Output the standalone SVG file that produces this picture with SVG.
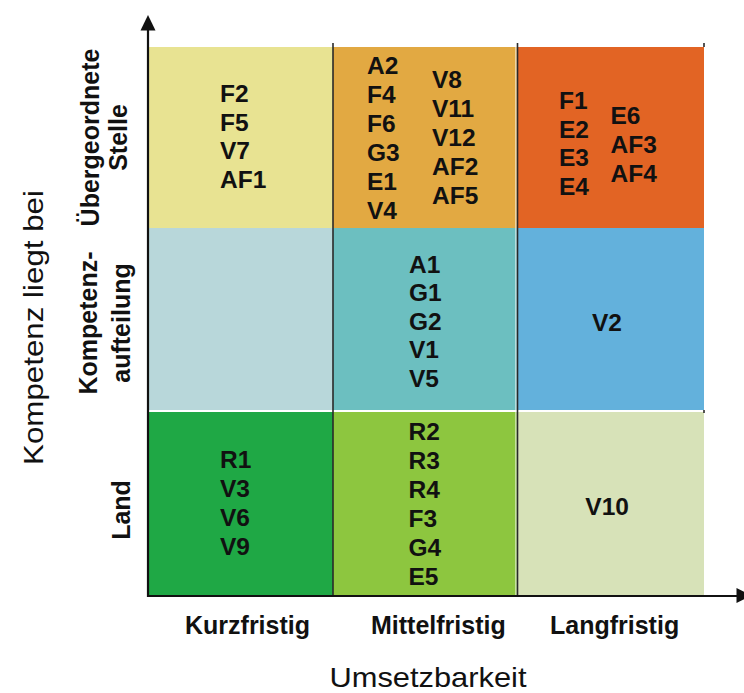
<svg xmlns="http://www.w3.org/2000/svg" width="744" height="693" viewBox="0 0 744 693">
<defs>
<style>
.c{font-family:"Liberation Sans",Arial,sans-serif;font-weight:bold;font-size:24.5px;fill:#111}
.lab{font-family:"Liberation Sans",Arial,sans-serif;font-weight:bold;font-size:25px;fill:#111}
.ax{font-family:"Liberation Sans",Arial,sans-serif;font-size:28px;fill:#111}
.grid{stroke:#2a2a2a;stroke-width:1.6;fill:none}
.axis{stroke:#111;stroke-width:2.2;fill:none}
</style>
</defs>
<rect width="744" height="693" fill="#fff"/>

<g id="cell-r1c1"><rect x="148" y="47" width="185" height="181" fill="#E8E392"/>
<text class="c" x="220" y="102">F2</text><text class="c" x="220" y="130.5">F5</text><text class="c" x="220" y="159">V7</text><text class="c" x="220" y="187.5">AF1</text></g>

<g id="cell-r1c2"><rect x="333" y="47" width="184" height="181" fill="#E2A942"/>
<text class="c" x="367" y="73.5">A2</text><text class="c" x="367" y="102.5">F4</text><text class="c" x="367" y="131.5">F6</text><text class="c" x="367" y="160.5">G3</text><text class="c" x="367" y="189.5">E1</text><text class="c" x="367" y="218.5">V4</text>
<text class="c" x="432" y="87.5">V8</text><text class="c" x="432" y="116.7">V11</text><text class="c" x="432" y="145.9">V12</text><text class="c" x="432" y="175.1">AF2</text><text class="c" x="432" y="204.3">AF5</text></g>

<g id="cell-r1c3"><rect x="517" y="47" width="187" height="181" fill="#E26424"/>
<text class="c" x="559" y="109">F1</text><text class="c" x="559" y="137.7">E2</text><text class="c" x="559" y="166.4">E3</text><text class="c" x="559" y="195.1">E4</text>
<text class="c" x="610.5" y="124">E6</text><text class="c" x="610.5" y="152.8">AF3</text><text class="c" x="610.5" y="181.6">AF4</text></g>

<g id="cell-r2c1"><rect x="148" y="228" width="185" height="182" fill="#B8D7DA"/></g>

<g id="cell-r2c2"><rect x="333" y="228" width="184" height="182" fill="#6CBFC0"/>
<text class="c" x="409" y="272.5">A1</text><text class="c" x="409" y="301.1">G1</text><text class="c" x="409" y="329.7">G2</text><text class="c" x="409" y="358.3">V1</text><text class="c" x="409" y="386.9">V5</text></g>

<g id="cell-r2c3"><rect x="517" y="228" width="187" height="182" fill="#63B1DC"/>
<text class="c" x="607" y="330.7" text-anchor="middle">V2</text></g>

<g id="cell-r3c1"><rect x="148" y="412" width="185" height="184" fill="#1FA845"/>
<text class="c" x="220" y="467.5">R1</text><text class="c" x="220" y="496.6">V3</text><text class="c" x="220" y="525.7">V6</text><text class="c" x="220" y="554.8">V9</text></g>

<g id="cell-r3c2"><rect x="333" y="412" width="184" height="184" fill="#8DC63F"/>
<text class="c" x="408.5" y="440">R2</text><text class="c" x="408.5" y="469">R3</text><text class="c" x="408.5" y="498">R4</text><text class="c" x="408.5" y="527">F3</text><text class="c" x="408.5" y="556">G4</text><text class="c" x="408.5" y="585">E5</text></g>

<g id="cell-r3c3"><rect x="517" y="412" width="187" height="184" fill="#D7E2B8"/>
<text class="c" x="585.3" y="515">V10</text></g>

<g id="connectors">
<line x1="148" y1="411" x2="704" y2="411" stroke="#fff" stroke-width="2"/>
<line x1="516" y1="47" x2="516" y2="596" stroke="#fff" stroke-width="1"/>
<line class="grid" x1="333" y1="43" x2="333" y2="596"/>
<line class="grid" x1="517.5" y1="43" x2="517.5" y2="596"/>
<line class="grid" x1="704" y1="43" x2="704" y2="47"/>
<line class="grid" x1="704" y1="410" x2="704" y2="413"/>
<line class="axis" x1="148" y1="597" x2="148" y2="28"/>
<polygon points="148,15 140.5,30.5 155.5,30.5" fill="#111"/>
<line class="axis" x1="147" y1="596" x2="739" y2="596"/>
<polygon points="752,595.5 736.5,588 736.5,603" fill="#111"/>
</g>

<g id="labels">
<text class="lab" transform="translate(99,137.5) rotate(-90)" text-anchor="middle">Übergeordnete</text>
<text class="lab" transform="translate(127,137.5) rotate(-90)" text-anchor="middle">Stelle</text>
<text class="lab" transform="translate(97,323) rotate(-90)" text-anchor="middle">Kompetenz-</text>
<text class="lab" transform="translate(129.5,323) rotate(-90)" text-anchor="middle">aufteilung</text>
<text class="lab" transform="translate(130,510) rotate(-90)" text-anchor="middle">Land</text>
<text class="lab" x="185" y="634">Kurzfristig</text>
<text class="lab" x="371" y="634">Mittelfristig</text>
<text class="lab" x="550" y="634">Langfristig</text>
<text class="ax" x="428" y="686.5" font-size="27" text-anchor="middle" textLength="197" lengthAdjust="spacingAndGlyphs">Umsetzbarkeit</text>
<text class="ax" transform="translate(43,327.5) rotate(-90)" text-anchor="middle" textLength="275" lengthAdjust="spacingAndGlyphs">Kompetenz liegt bei</text>
</g>
</svg>
